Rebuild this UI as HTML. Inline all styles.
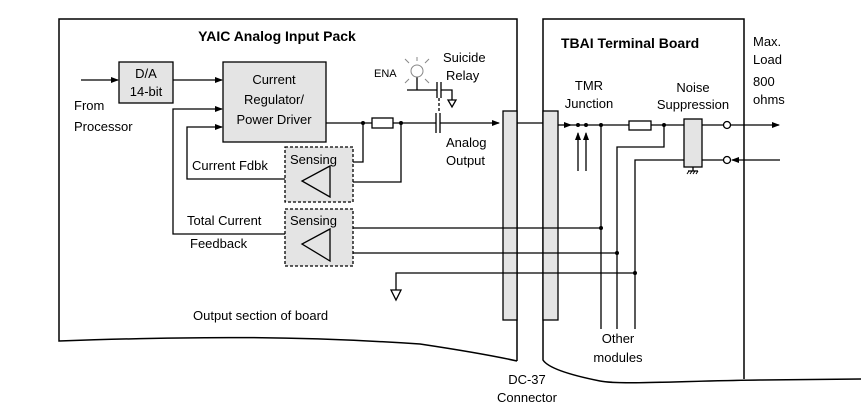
<!DOCTYPE html>
<html><head><style>body{margin:0;background:#fff}svg{display:block}text{font-family:"Liberation Sans",Arial,sans-serif;font-size:13px;fill:#000}</style></head><body>
<svg width="861" height="414" viewBox="0 0 861 414" xmlns="http://www.w3.org/2000/svg">
<defs><marker id="a" markerWidth="8" markerHeight="6" refX="7" refY="3" orient="auto" markerUnits="userSpaceOnUse"><path d="M0,0L8,3L0,6z" fill="#000"/></marker></defs>
<g fill="none" stroke="#000" stroke-width="1.5">
<path d="M517,361 L517,19 L59,19 L59,341 C200,336 300,336 420,344 C460,350 490,355 517,361"/>
<path d="M861,379 L760,380 C680,381 620,385 600,381 C570,375 548,368 543,360 L543,19 L744,19 L744,379"/>
</g>
<g stroke="#000" stroke-width="1.3" fill="#e4e4e4">
<rect x="503" y="111" width="14" height="209"/>
<rect x="543" y="111" width="15" height="209"/>
</g>
<g stroke="#000" stroke-width="1.3" fill="none">
<line x1="81" y1="80" x2="118" y2="80" marker-end="url(#a)"/>
<line x1="173" y1="80" x2="222" y2="80" marker-end="url(#a)"/>
<polyline points="285,234 173,234 173,109 222,109" marker-end="url(#a)"/>
<polyline points="285,179 187,179 187,127 222,127" marker-end="url(#a)"/>
<line x1="326" y1="123" x2="372" y2="123"/>
<line x1="393" y1="123" x2="436" y2="123"/>
<line x1="440" y1="123" x2="499" y2="123" marker-end="url(#a)"/>
<line x1="517" y1="123" x2="543" y2="123"/>
<polyline points="363,123 363,162 353,162"/>
<polyline points="401,123 401,182 353,182"/>
<line x1="436" y1="113" x2="436" y2="133"/><line x1="440" y1="113" x2="440" y2="133"/>
<line x1="417" y1="77" x2="417" y2="90"/>
<line x1="407" y1="90" x2="437" y2="90"/>
<line x1="437" y1="82" x2="437" y2="98"/><line x1="441" y1="82" x2="441" y2="98"/>
<polyline points="441,90 452,90 452,100"/>
<path d="M448,100 L456,100 L452,107z"/>
<line x1="439" y1="98" x2="439" y2="113" stroke-dasharray="3,2"/>
<line x1="353" y1="228" x2="601" y2="228"/>
<line x1="353" y1="253" x2="617" y2="253"/>
<polyline points="396,290 396,273 635,273"/>
<path d="M391,290 L401,290 L396,300z"/>
<line x1="558" y1="125" x2="571" y2="125" marker-end="url(#a)"/>
<line x1="571" y1="125" x2="629" y2="125"/>
<line x1="651" y1="125" x2="684" y2="125"/>
<line x1="578" y1="171" x2="578" y2="133" marker-end="url(#a)"/>
<line x1="586" y1="171" x2="586" y2="133" marker-end="url(#a)"/>
<line x1="601" y1="125" x2="601" y2="329"/>
<polyline points="664,125 664,147 617,147 617,329"/>
<polyline points="684,160 635,160 635,329"/>
<line x1="702" y1="125" x2="724" y2="125"/>
<line x1="730" y1="125" x2="779" y2="125" marker-end="url(#a)"/>
<line x1="702" y1="160" x2="724" y2="160"/>
<line x1="780" y1="160" x2="732" y2="160" marker-end="url(#a)"/>
<circle cx="727" cy="125" r="3.5" fill="#fff"/><circle cx="727" cy="160" r="3.5" fill="#fff"/>
<line x1="693" y1="167" x2="693" y2="171"/><line x1="688" y1="171" x2="698" y2="171"/>
<path d="M689,171l-2,3M692,171l-2,3M695,171l-2,3M698,171l-2,3" stroke-width="1"/>
</g>
<g fill="#000"><circle cx="363" cy="123" r="2"/><circle cx="401" cy="123" r="2"/><circle cx="578" cy="125" r="2"/><circle cx="586" cy="125" r="2"/><circle cx="601" cy="125" r="2"/><circle cx="664" cy="125" r="2"/><circle cx="601" cy="228" r="2"/><circle cx="617" cy="253" r="2"/><circle cx="635" cy="273" r="2"/></g>
<g stroke="#888" stroke-width="1" fill="none"><circle cx="417" cy="71" r="6"/><path d="M409,63l-4,-4M425,63l4,-4M409,79l-4,4M425,79l4,4M417,61v-4"/></g>
<g stroke="#000" stroke-width="1.3" fill="#e4e4e4">
<rect x="119" y="62" width="54" height="41"/>
<rect x="223" y="62" width="103" height="80"/>
<rect x="285" y="147" width="68" height="55" stroke-dasharray="3,2"/>
<rect x="285" y="209" width="68" height="57" stroke-dasharray="3,2"/>
<rect x="372" y="118" width="21" height="10" fill="#fff"/>
<rect x="629" y="121" width="22" height="9" fill="#fff"/>
<rect x="684" y="119" width="18" height="48"/>
<path d="M330,166 L302,181 L330,197z" fill="none"/>
<path d="M330,229 L302,244 L330,261z" fill="none"/>
</g>
<text x="277" y="41" text-anchor="middle" style="font-weight:bold;font-size:14px">YAIC  Analog Input Pack</text>
<text x="146" y="78" text-anchor="middle">D/A</text>
<text x="146" y="96" text-anchor="middle">14-bit</text>
<text x="274" y="84" text-anchor="middle">Current</text>
<text x="274" y="104" text-anchor="middle">Regulator/</text>
<text x="274" y="124" text-anchor="middle">Power Driver</text>
<text x="74" y="110">From</text><text x="74" y="131">Processor</text>
<text x="290" y="164">Sensing</text><text x="290" y="225">Sensing</text>
<text x="192" y="170">Current Fdbk</text>
<text x="187" y="225">Total Current</text><text x="190" y="248">Feedback</text>
<text x="374" y="77" style="font-size:11px">ENA</text>
<text x="443" y="62">Suicide</text><text x="446" y="80">Relay</text>
<text x="446" y="147">Analog</text><text x="446" y="165">Output</text>
<text x="193" y="320">Output section of board</text>
<text x="561" y="48" style="font-weight:bold;font-size:14px">TBAI  Terminal Board</text>
<text x="589" y="90" text-anchor="middle">TMR</text><text x="589" y="108" text-anchor="middle">Junction</text>
<text x="693" y="92" text-anchor="middle">Noise</text><text x="693" y="109" text-anchor="middle">Suppression</text>
<text x="753" y="46">Max.</text><text x="753" y="64">Load</text><text x="753" y="86">800</text><text x="753" y="104">ohms</text>
<text x="618" y="343" text-anchor="middle">Other</text><text x="618" y="362" text-anchor="middle">modules</text>
<text x="527" y="384" text-anchor="middle">DC-37</text><text x="527" y="402" text-anchor="middle">Connector</text>
</svg>
</body></html>
